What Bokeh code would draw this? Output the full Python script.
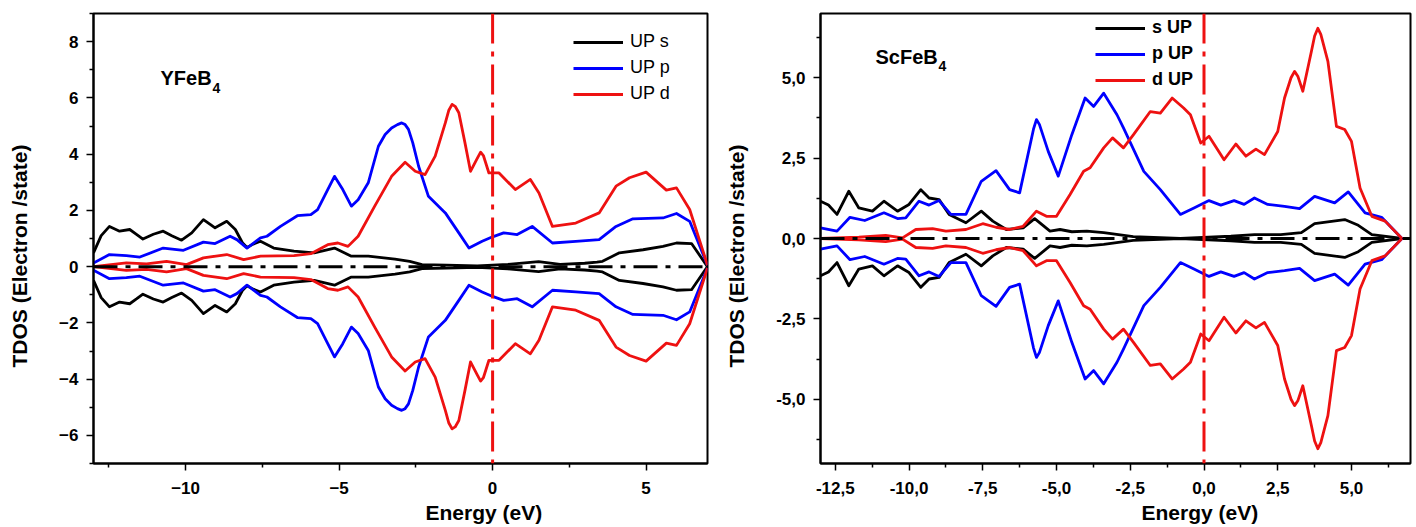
from bokeh.plotting import figure
from bokeh.layouts import row
from bokeh.models import (FixedTicker, CustomJSTickFormatter, Span, Label, Title,
                          Legend, LegendItem, Range1d)
from bokeh.embed import file_html
from bokeh.resources import INLINE

FONT = "Liberation Sans"
BLACK, BLUE, RED = "#000000", "#0000ff", "#ee1111"

# ---------------- YFeB4 (left panel) ----------------
y_s_E = [-13.0, -12.75, -12.48, -12.15, -11.82, -11.6, -11.39, -11.05, -10.73, -10.45, -10.13, -9.8, -9.42, -9.2,
         -9.04, -8.66, -8.38, -8.15, -8.0, -7.8, -7.56, -7.13, -6.47, -5.81, -5.15, -4.85, -4.6, -4.05, -3.18,
         -2.7, -2.3, -1.5, -0.5, 0.5, 1.5, 2.2, 3.0, 3.4, 3.58, 4.13, 4.9, 5.55, 5.99, 6.48, 7.0]
y_s_V = [0.49, 1.1, 1.43, 1.26, 1.32, 1.15, 0.98, 1.15, 1.26, 1.1, 0.94, 1.2, 1.67, 1.5,
         1.38, 1.61, 1.32, 0.85, 0.68, 0.8, 0.9, 0.66, 0.55, 0.49, 0.66, 0.5, 0.37, 0.37, 0.27,
         0.19, 0.07, 0.05, 0.03, 0.08, 0.18, 0.08, 0.12, 0.16, 0.19, 0.49, 0.6, 0.72, 0.84, 0.82, 0.0]

y_p_E = [-13.0, -12.48, -11.93, -11.49, -10.73, -10.07, -9.42, -9.04, -8.55, -8.33, -8.0, -7.56, -7.35, -6.91,
         -6.36, -5.92, -5.7, -5.37, -5.15, -4.88, -4.6, -4.38, -4.05, -3.72, -3.5, -3.29, -3.1, -2.96, -2.85,
         -2.74, -2.6, -2.41, -2.09, -1.54, -1.1, -0.77, -0.34, 0.0, 0.36, 0.8, 1.29, 1.95, 2.71, 3.47, 4.02,
         4.57, 5.55, 5.99, 6.42, 7.0]
y_p_V = [0.13, 0.43, 0.39, 0.34, 0.66, 0.58, 0.87, 0.82, 1.08, 0.96, 0.66, 1.02, 1.08, 1.43,
         1.81, 1.85, 2.03, 2.74, 3.21, 2.74, 2.15, 2.38, 2.98, 4.28, 4.7, 4.93, 5.05, 5.11, 5.05,
         4.88, 4.4, 3.57, 2.5, 1.91, 1.2, 0.66, 0.9, 1.06, 1.2, 1.14, 1.43, 0.84, 0.9, 0.96, 1.43,
         1.7, 1.73, 1.89, 1.61, 0.05]

y_d_E = [-13.0, -11.93, -11.27, -10.62, -9.97, -9.42, -8.66, -8.11, -7.56, -6.47, -5.92, -5.37, -5.04, -4.71,
         -4.38, -3.84, -3.29, -2.85, -2.52, -2.2, -1.87, -1.54, -1.43, -1.32, -1.22, -1.1, -0.9, -0.72, -0.5,
         -0.39, -0.3, -0.12, 0.21, 0.74, 1.23, 1.51, 1.95, 2.71, 3.47, 4.02, 4.46, 5.0, 5.66, 5.99, 6.42, 7.0]
y_d_V = [0.0, 0.13, 0.1, 0.19, 0.07, 0.31, 0.43, 0.25, 0.37, 0.39, 0.46, 0.78, 0.84, 0.72,
         1.08, 2.15, 3.21, 3.71, 3.39, 3.27, 3.93, 5.11, 5.55, 5.77, 5.7, 5.47, 4.4, 3.39, 3.85,
         4.07, 3.95, 3.33, 3.33, 2.74, 3.1, 2.62, 1.43, 1.55, 1.91, 2.86, 3.16, 3.36, 2.72, 2.8, 2.03, 0.05]

# ---------------- ScFeB4 (right panel) ----------------
s_s_E = [-13.0, -12.73, -12.44, -12.04, -11.7, -11.24, -10.85, -10.39, -10.0, -9.6, -9.32, -8.98, -8.64, -8.07,
         -7.55, -7.16, -6.7, -6.13, -5.74, -5.22, -4.88, -4.48, -3.97, -3.4, -2.9, -2.4, -0.8, 0.91, 1.71,
         2.6, 3.3, 3.75, 4.77, 5.23, 5.69, 6.71, 7.0]
s_s_V = [1.16, 1.04, 0.75, 1.47, 0.95, 0.85, 1.16, 0.85, 1.06, 1.52, 1.26, 1.21, 0.75, 0.49,
         0.85, 0.54, 0.28, 0.33, 0.62, 0.23, 0.28, 0.21, 0.23, 0.18, 0.12, 0.06, 0.0, 0.07, 0.12,
         0.12, 0.18, 0.46, 0.59, 0.41, 0.12, 0.0, 0.0]

s_p_E = [-13.0, -12.44, -12.0, -11.5, -10.85, -10.39, -10.11, -9.66, -9.32, -8.98, -8.58, -8.07, -7.55, -7.05,
         -6.59, -6.25, -5.78, -5.68, -5.58, -5.28, -4.94, -4.48, -4.03, -3.74, -3.4, -2.95, -2.73, -2.04,
         -1.48, -0.8, -0.34, 0.17, 0.57, 1.02, 1.36, 1.71, 2.16, 2.73, 3.24, 3.75, 4.43, 4.89, 5.46, 6.02, 6.71]
s_p_V = [0.33, 0.23, 0.66, 0.56, 0.8, 0.62, 0.64, 1.16, 1.04, 1.18, 0.75, 0.75, 1.78, 2.11,
         1.52, 1.42, 3.4, 3.7, 3.55, 2.71, 1.94, 3.23, 4.37, 4.11, 4.52, 3.85, 3.44, 2.09,
         1.52, 0.75, 0.95, 1.18, 1.04, 1.18, 1.06, 1.26, 1.06, 1.0, 0.93, 1.31, 1.11, 1.45, 0.8, 0.66, 0.0]

s_d_E = [-13.0, -11.7, -10.79, -10.22, -9.77, -9.2, -8.75, -8.07, -7.5, -7.05, -6.59, -6.13, -5.68, -5.34,
         -5.0, -4.54, -4.08, -3.86, -3.4, -3.1, -2.73, -2.39, -1.82, -1.48, -1.08, -0.69, -0.46, -0.11, 0.17,
         0.68, 1.08, 1.42, 1.76, 2.05, 2.5, 2.73, 2.95, 3.07, 3.18, 3.35, 3.64, 3.75, 3.86, 3.96, 4.2, 4.49,
         4.77, 5.0, 5.29, 5.69, 6.14, 6.71]
s_d_V = [0.0, 0.04, 0.1, 0.02, 0.28, 0.31, 0.23, 0.28, 0.46, 0.35, 0.28, 0.38, 0.85, 0.69,
         0.69, 1.37, 2.09, 2.2, 2.82, 3.13, 2.82, 3.23, 3.95, 3.9, 4.37, 4.06, 3.85, 2.97, 3.18,
         2.45, 2.94, 2.56, 2.78, 2.61, 3.33, 4.37, 5.0, 5.2, 5.05, 4.58, 5.82, 6.3, 6.54, 6.35, 5.51, 3.49,
         3.39, 3.02, 1.57, 0.69, 0.54, 0.0]

left_labels = ["UP s", "UP p", "UP d"]
right_labels = ["s UP", "p UP", "d UP"]

left_yticks = [-6, -4, -2, 0, 2, 4, 6, 8]
left_yminor = [-7, -5, -3, -1, 1, 3, 5, 7, 9]
left_xticks = [-10, -5, 0, 5]
left_xminor = [-12.5, -7.5, -2.5, 2.5]
right_yticks = [-5.0, -2.5, 0.0, 2.5, 5.0]
right_yminor = [-6.25, -3.75, -1.25, 1.25, 3.75, 6.25]
right_xticks = [-12.5, -10.0, -7.5, -5.0, -2.5, 0.0, 2.5, 5.0]
right_xminor = [-11.25, -8.75, -6.25, -3.75, -1.25, 1.25, 3.75, 6.25]


def style_axes(p, xt, xm, yt, ym, comma):
    p.xgrid.visible = False
    p.ygrid.visible = False
    p.outline_line_color = "black"
    p.outline_line_width = 2
    p.xaxis.ticker = FixedTicker(ticks=xt, minor_ticks=xm)
    p.yaxis.ticker = FixedTicker(ticks=yt, minor_ticks=ym)
    if comma:
        fmt = "return tick.toFixed(1).replace('.', ',');"
        p.xaxis.formatter = CustomJSTickFormatter(code=fmt)
        p.yaxis.formatter = CustomJSTickFormatter(code=fmt)
    for ax in (p.xaxis[0], p.yaxis[0]):
        ax.axis_line_width = 2
        ax.axis_line_color = "black"
        ax.major_tick_in = 0
        ax.major_tick_out = 7
        ax.minor_tick_in = 0
        ax.minor_tick_out = 4
        ax.major_tick_line_width = 1.5
        ax.minor_tick_line_width = 1.5
        ax.major_tick_line_color = "black"
        ax.minor_tick_line_color = "black"
        ax.major_label_text_font = FONT
        ax.major_label_text_font_size = "17px"
        ax.major_label_text_font_style = "bold"
        ax.major_label_text_color = "black"
        ax.major_label_standoff = 8
    p.xaxis[0].major_label_standoff = 11


def build(yr, fw, mbl, mbr, series, labels, label_style, legend_loc,
          xt, xm, yt, ym, comma, name_xy, sub_xy, name, xoff):
    p = figure(frame_width=fw, frame_height=450, x_range=Range1d(-13, 7), y_range=Range1d(*yr),
               output_backend="svg", toolbar_location=None,
               min_border_left=mbl, min_border_right=mbr, min_border_top=13, min_border_bottom=62)
    style_axes(p, xt, xm, yt, ym, comma)
    items = []
    for (E, V, color), lab in zip(series, labels):
        r = p.line(E, V, line_color=color, line_width=2.8, line_join="round")
        p.line(E, [-v for v in V], line_color=color, line_width=2.8, line_join="round")
        items.append(LegendItem(label=lab, renderers=[r]))
    p.add_layout(Span(location=0, dimension="width", line_color="black", line_width=3,
                      line_dash="24 8 5 8"))
    p.add_layout(Span(location=0, dimension="height", line_color=RED, line_width=3,
                      line_dash="30 8 5 8"))
    leg = Legend(items=items, location=legend_loc, border_line_color=None, background_fill_alpha=0,
                 padding=0, margin=0, spacing=5, glyph_width=50, glyph_height=20, label_height=20,
                 label_standoff=7, label_text_font=FONT, label_text_font_size="18px",
                 label_text_font_style=label_style, label_text_color="black")
    p.add_layout(leg)
    p.add_layout(Label(x=name_xy[0], y=name_xy[1], x_units="screen", y_units="screen", text=name,
                       text_font=FONT, text_font_size="20px", text_font_style="bold",
                       text_baseline="alphabetic", text_color="black"))
    p.add_layout(Label(x=sub_xy[0], y=sub_xy[1], x_units="screen", y_units="screen", text="4",
                       text_font=FONT, text_font_size="14px", text_font_style="bold",
                       text_baseline="alphabetic", text_color="black"))
    p.add_layout(Title(text="Energy (eV)", align="left", offset=xoff, text_font=FONT,
                       text_font_size="21px", text_font_style="bold", standoff=4,
                       text_color="black"), "below")
    # spacer between the tick labels and the y-axis title
    p.add_layout(Title(text=" ", text_font=FONT, text_font_size="20px", standoff=0), "left")
    p.add_layout(Title(text="TDOS (Electron /state)", align="left", offset=96, text_font=FONT,
                       text_font_size="21px", text_font_style="bold", standoff=4,
                       text_color="black"), "left")
    return p


p1 = build((-7, 9), 614, 93, 13,
           [(y_s_E, y_s_V, BLACK), (y_p_E, y_p_V, BLUE), (y_d_E, y_d_V, RED)],
           left_labels, "normal", (480, 359),
           left_xticks, left_xminor, left_yticks, left_yminor, False,
           (67, 386), (119, 376), "YFeB", 332)
p2 = build((-7, 7), 590, 100, 4,
           [(s_s_E, s_s_V, BLACK), (s_p_E, s_p_V, BLUE), (s_d_E, s_d_V, RED)],
           right_labels, "bold", (275, 373),
           right_xticks, right_xminor, right_yticks, right_yminor, True,
           (55, 407), (118, 398), "ScFeB", 321)

layout = row(p1, p2)
open("out.html", "w").write(file_html(layout, INLINE))
